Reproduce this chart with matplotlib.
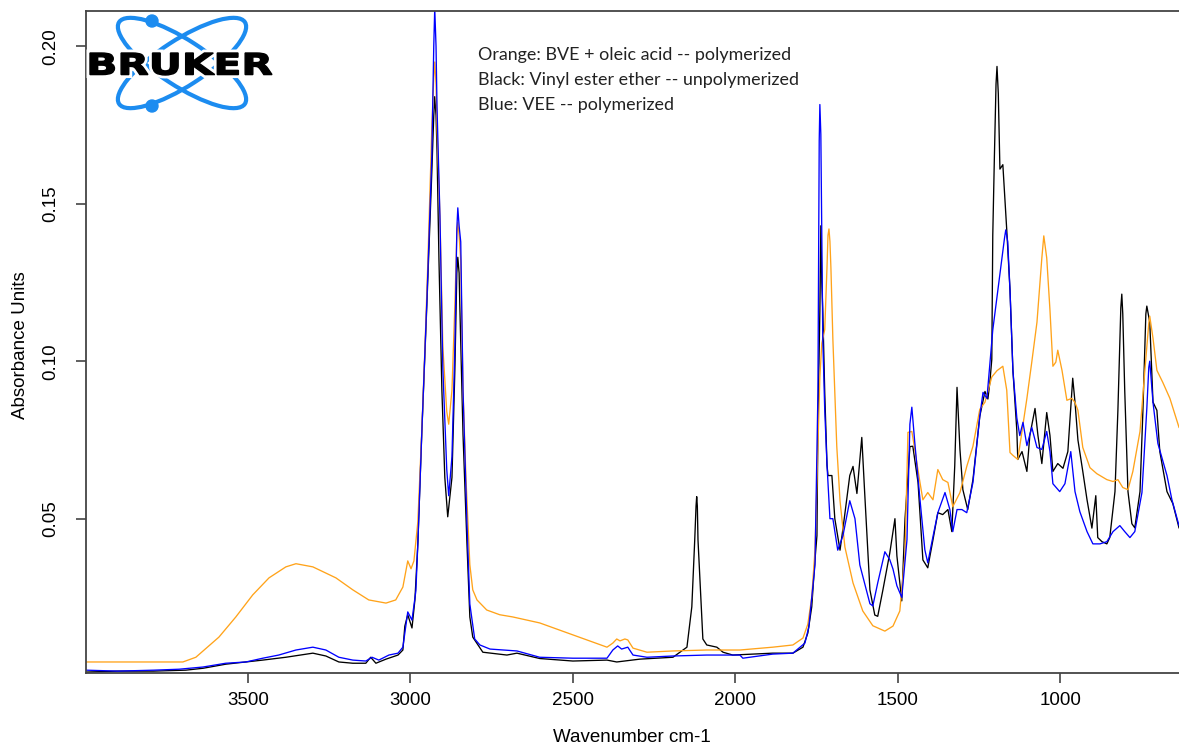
import numpy as np
import matplotlib.pyplot as plt
from matplotlib.patches import Ellipse, Circle, PathPatch
from matplotlib.textpath import TextPath
from matplotlib.font_manager import FontProperties
from matplotlib.transforms import Affine2D
import matplotlib.patheffects as pe

# Orange: BVE + oleic acid, polymerized
wn_orange = [3998, 3850, 3700, 3660, 3589, 3537, 3485, 3435, 3383, 3352, 3300, 3229, 3177, 3128,
             3075, 3045, 3023, 3008, 2998, 2989, 2977, 2965, 2955, 2946, 2934, 2928, 2925, 2921,
             2918, 2909, 2900, 2888, 2882, 2872, 2863, 2857, 2854, 2850, 2845, 2838, 2829, 2817,
             2808, 2795, 2765, 2725, 2685, 2602, 2500, 2395, 2377, 2365, 2355, 2340, 2331, 2315,
             2272, 2192, 2088, 1986, 1885, 1823, 1792, 1777, 1765, 1755, 1749, 1740, 1734, 1725,
             1718, 1715, 1712, 1709, 1706, 1700, 1688, 1678, 1663, 1638, 1608, 1577, 1540, 1515,
             1494, 1478, 1469, 1457, 1448, 1432, 1423, 1408, 1392, 1377, 1362, 1346, 1331, 1309,
             1288, 1269, 1248, 1232, 1211, 1195, 1177, 1165, 1155, 1146, 1131, 1118, 1103, 1088,
             1072, 1057, 1051, 1042, 1032, 1023, 1014, 1008, 995, 980, 965, 955, 946, 931, 909,
             888, 857, 838, 823, 808, 792, 777, 755, 740, 728, 725, 715, 703, 685, 663, 635]
ab_orange = [0.0045, 0.0045, 0.0045, 0.0060, 0.0124, 0.0188, 0.0258, 0.0312, 0.0347, 0.0357,
             0.0347, 0.0312, 0.0274, 0.0242, 0.0232, 0.0242, 0.0283, 0.0366, 0.0341, 0.0366,
             0.0490, 0.0774, 0.1045, 0.1320, 0.1740, 0.1900, 0.1950, 0.1880, 0.1740, 0.1460,
             0.1045, 0.0840, 0.0800, 0.0908, 0.1180, 0.1400, 0.1440, 0.1400, 0.1320, 0.0908,
             0.0630, 0.0354, 0.0274, 0.0242, 0.0210, 0.0195, 0.0188, 0.0169, 0.0131, 0.0092,
             0.0105, 0.0118, 0.0112, 0.0118, 0.0115, 0.0089, 0.0076, 0.0080, 0.0083, 0.0083,
             0.0092, 0.0099, 0.0121, 0.0165, 0.0250, 0.0400, 0.0620, 0.0950, 0.1057, 0.1100,
             0.1300, 0.1400, 0.1420, 0.1380, 0.1296, 0.1070, 0.0730, 0.0557, 0.0410, 0.0296,
             0.0207, 0.0160, 0.0143, 0.0159, 0.0207, 0.0389, 0.0774, 0.0777, 0.0720, 0.0615,
             0.0560, 0.0583, 0.0560, 0.0656, 0.0624, 0.0615, 0.0538, 0.0583, 0.0666, 0.0730,
             0.0847, 0.0870, 0.0950, 0.0970, 0.0984, 0.0908, 0.0710, 0.0701, 0.0688, 0.0777,
             0.0882, 0.0997, 0.1124, 0.1328, 0.1398, 0.1328, 0.1162, 0.0984, 0.0997, 0.1035,
             0.0971, 0.0876, 0.0882, 0.0869, 0.0844, 0.0726, 0.0662, 0.0643, 0.0624, 0.0618,
             0.0624, 0.0599, 0.0592, 0.0650, 0.0777, 0.0971, 0.1120, 0.1143, 0.1073, 0.0971,
             0.0933, 0.0882, 0.0790]

# Black: vinyl ester ether, unpolymerized
wn_black = [3998, 3900, 3790, 3691, 3638, 3568, 3506, 3454, 3383, 3300, 3260, 3220, 3177, 3137,
            3122, 3106, 3075, 3038, 3023, 3017, 3008, 2995, 2986, 2977, 2965, 2949, 2934, 2928,
            2925, 2921, 2918, 2912, 2903, 2894, 2885, 2872, 2863, 2857, 2854, 2850, 2848, 2838,
            2826, 2817, 2808, 2777, 2703, 2672, 2602, 2500, 2395, 2365, 2294, 2192, 2149, 2134,
            2125, 2121, 2119, 2117, 2115, 2100, 2088, 2057, 2038, 2008, 1885, 1823, 1792, 1777,
            1765, 1755, 1749, 1746, 1740, 1737, 1734, 1731, 1725, 1718, 1715, 1703, 1694, 1678,
            1669, 1648, 1638, 1626, 1611, 1602, 1586, 1571, 1562, 1546, 1525, 1509, 1503, 1488,
            1478, 1463, 1454, 1438, 1423, 1408, 1392, 1377, 1362, 1346, 1334, 1325, 1318, 1309,
            1300, 1285, 1269, 1248, 1232, 1223, 1217, 1211, 1208, 1203, 1198, 1195, 1191, 1186,
            1177, 1165, 1155, 1146, 1134, 1131, 1118, 1103, 1094, 1078, 1069, 1057, 1042, 1032,
            1023, 1008, 992, 977, 962, 955, 946, 931, 918, 903, 891, 885, 872, 857, 848, 832, 823,
            814, 811, 808, 802, 792, 780, 771, 755, 746, 737, 734, 725, 715, 703, 694, 672, 654,
            635]
ab_black = [0.0013, 0.0016, 0.0016, 0.0019, 0.0025, 0.0038, 0.0045, 0.0051, 0.0060, 0.0073,
            0.0064, 0.0045, 0.0041, 0.0041, 0.0060, 0.0041, 0.0054, 0.0067, 0.0083, 0.0159,
            0.0195, 0.0153, 0.0242, 0.0420, 0.0768, 0.1185, 0.1600, 0.1780, 0.1840, 0.1780,
            0.1670, 0.1322, 0.0908, 0.0631, 0.0506, 0.0631, 0.0975, 0.1280, 0.1330, 0.1280,
            0.1185, 0.0768, 0.0424, 0.0188, 0.0124, 0.0076, 0.0067, 0.0073, 0.0056, 0.0048,
            0.0051, 0.0045, 0.0054, 0.0060, 0.0092, 0.0220, 0.0433, 0.0540, 0.0570, 0.0540,
            0.0433, 0.0118, 0.0099, 0.0092, 0.0076, 0.0067, 0.0073, 0.0073, 0.0092, 0.0137,
            0.0220, 0.0370, 0.0446, 0.0800, 0.1160, 0.1430, 0.1250, 0.1160, 0.0900, 0.0670,
            0.0637, 0.0637, 0.0500, 0.0400, 0.0468, 0.0637, 0.0666, 0.0580, 0.0758, 0.0580,
            0.0274, 0.0194, 0.0190, 0.0274, 0.0390, 0.0500, 0.0382, 0.0239, 0.0500, 0.0729,
            0.0730, 0.0615, 0.0369, 0.0344, 0.0433, 0.0519, 0.0513, 0.0529, 0.0459, 0.0668,
            0.0917, 0.0720, 0.0592, 0.0529, 0.0624, 0.0825, 0.0904, 0.0880, 0.0933, 0.1006,
            0.1400, 0.1650, 0.1880, 0.1936, 0.1850, 0.1610, 0.1624, 0.1417, 0.1226, 0.0970,
            0.0780, 0.0688, 0.0713, 0.0650, 0.0764, 0.0850, 0.0764, 0.0675, 0.0837, 0.0764,
            0.0650, 0.0675, 0.0660, 0.0713, 0.0946, 0.0870, 0.0750, 0.0650, 0.0560, 0.0470,
            0.0573, 0.0440, 0.0427, 0.0420, 0.0440, 0.0586, 0.0844, 0.1170, 0.1213, 0.1150,
            0.0908, 0.0586, 0.0484, 0.0471, 0.0586, 0.0844, 0.1150, 0.1175, 0.1124, 0.0870,
            0.0844, 0.0713, 0.0586, 0.0548, 0.0471]

# Blue: VEE, polymerized
wn_blue = [3998, 3900, 3790, 3712, 3638, 3568, 3506, 3454, 3405, 3352, 3300, 3260, 3220, 3177,
           3137, 3118, 3097, 3066, 3038, 3023, 3008, 2995, 2983, 2977, 2965, 2949, 2934, 2928,
           2925, 2921, 2918, 2909, 2900, 2888, 2882, 2872, 2863, 2857, 2854, 2850, 2845, 2838,
           2826, 2817, 2802, 2786, 2755, 2672, 2602, 2500, 2395, 2377, 2362, 2350, 2331, 2315,
           2272, 2192, 2088, 1986, 1977, 1885, 1823, 1786, 1774, 1765, 1755, 1746, 1742, 1740,
           1737, 1734, 1731, 1725, 1718, 1709, 1700, 1685, 1669, 1648, 1632, 1617, 1586, 1577,
           1562, 1540, 1525, 1515, 1503, 1488, 1472, 1463, 1457, 1448, 1432, 1417, 1408, 1392,
           1377, 1355, 1340, 1331, 1318, 1303, 1288, 1269, 1248, 1238, 1226, 1208, 1186, 1172,
           1168, 1162, 1155, 1146, 1134, 1125, 1115, 1103, 1088, 1072, 1057, 1042, 1032, 1023,
           1002, 986, 968, 955, 940, 918, 900, 878, 857, 838, 817, 802, 786, 771, 749, 734, 728,
           725, 715, 700, 672, 657, 635]
ab_blue = [0.0019, 0.0016, 0.0019, 0.0022, 0.0029, 0.0041, 0.0045, 0.0057, 0.0067, 0.0083,
           0.0092, 0.0083, 0.0060, 0.0051, 0.0048, 0.0060, 0.0051, 0.0067, 0.0073, 0.0092,
           0.0204, 0.0178, 0.0271, 0.0420, 0.0768, 0.1200, 0.1650, 0.2000, 0.2120, 0.2000,
           0.1806, 0.1462, 0.0975, 0.0656, 0.0573, 0.0697, 0.1045, 0.1420, 0.1487, 0.1430,
           0.1379, 0.0908, 0.0490, 0.0229, 0.0118, 0.0099, 0.0086, 0.0080, 0.0060, 0.0057,
           0.0057, 0.0083, 0.0096, 0.0086, 0.0092, 0.0067, 0.0060, 0.0064, 0.0067, 0.0067,
           0.0057, 0.0070, 0.0073, 0.0105, 0.0156, 0.0250, 0.0354, 0.0900, 0.1700, 0.1815,
           0.1720, 0.1400, 0.1070, 0.0844, 0.0670, 0.0500, 0.0500, 0.0400, 0.0446, 0.0557,
           0.0500, 0.0353, 0.0230, 0.0223, 0.0296, 0.0395, 0.0370, 0.0340, 0.0287, 0.0250,
           0.0433, 0.0800, 0.0854, 0.0742, 0.0561, 0.0401, 0.0360, 0.0443, 0.0519, 0.0583,
           0.0529, 0.0459, 0.0529, 0.0529, 0.0519, 0.0615, 0.0825, 0.0901, 0.0882, 0.1099,
           0.1277, 0.1390, 0.1417, 0.1380, 0.1226, 0.0970, 0.0820, 0.0764, 0.0806, 0.0732,
           0.0790, 0.0726, 0.0720, 0.0777, 0.0713, 0.0611, 0.0586, 0.0611, 0.0713, 0.0586,
           0.0522, 0.0459, 0.0420, 0.0420, 0.0427, 0.0459, 0.0478, 0.0459, 0.0440, 0.0459,
           0.0583, 0.0850, 0.0980, 0.1000, 0.0869, 0.0739, 0.0637, 0.0561, 0.0478]

x_ticks = [3500, 3000, 2500, 2000, 1500, 1000]
y_ticks = [0.05, 0.10, 0.15, 0.20]
notes = ["Orange: BVE + oleic acid -- polymerized",
         "Black: Vinyl ester ether -- unpolymerized",
         "Blue: VEE -- polymerized"]

W, H = 1179, 749
plt.rcParams["font.family"] = ["Liberation Sans", "DejaVu Sans"]
fig = plt.figure(figsize=(W / 100, H / 100), dpi=100)
ax = fig.add_axes([86 / W, (H - 673) / H, (W - 86) / W, (673 - 11) / H])

ax.plot(wn_black, ab_black, color="black", lw=0.95)
ax.plot(wn_orange, ab_orange, color="#ffa31a", lw=0.95)
ax.plot(wn_blue, ab_blue, color="#0000ff", lw=0.95)

ax.set_xlim(3998, 635)
ax.set_ylim(0.001, 0.2112)
ax.set_xticks(x_ticks)
ax.set_yticks(y_ticks)
ax.set_yticklabels(["%.2f" % v for v in y_ticks], rotation=90, va="center")
ax.spines["right"].set_visible(False)
for s in ["left", "bottom", "top"]:
    ax.spines[s].set_color("#444444")
    ax.spines[s].set_linewidth(1.3)
ax.tick_params(direction="out", length=7, width=1.2, color="#444444", labelsize=13.5)
ax.tick_params(axis="x", pad=7)
ax.tick_params(axis="y", pad=12)

fig.text(21 / W, 1 - 345 / H, "Absorbance Units", rotation=90, ha="center", va="center", fontsize=13.5)
fig.text(632 / W, 1 - 738 / H, "Wavenumber cm-1", ha="center", va="center", fontsize=13.5)

for i, line in enumerate(notes):
    fig.text(478 / W, 1 - (55 + 25 * i) / H, line, ha="left", va="center",
             fontsize=12.9, family=["Lato", "DejaVu Sans"], color="#222222")

# logo drawn in pixel coordinates on an overlay
ov = fig.add_axes([0, 0, 1, 1])
ov.set_xlim(0, W)
ov.set_ylim(H, 0)
ov.axis("off")
logo_blue = "#1c8cf0"
cx, cy = 182, 63
for ang in (33, -33):
    ov.add_patch(Ellipse((cx, cy), 150, 46, angle=ang, fill=False, ec=logo_blue, lw=3.0))
ov.add_patch(Circle((152, 21), 6, color=logo_blue))
ov.add_patch(Circle((152, 106), 6, color=logo_blue))
tp = TextPath((0, 0), "BRUKER", size=30, prop=FontProperties(family="DejaVu Sans", weight="bold"))
ext = tp.get_extents()
sx = 182 / ext.width
sy = 22 / ext.height
tr = Affine2D().translate(-ext.x0, -ext.y0).scale(sx, -sy).translate(90, 75) + ov.transData
patch = PathPatch(tp, fc="black", ec="black", lw=1.0, transform=tr)
patch.set_path_effects([pe.Stroke(linewidth=5, foreground="white"), pe.Normal()])
ov.add_patch(patch)

fig.savefig("out.png", dpi=100)
